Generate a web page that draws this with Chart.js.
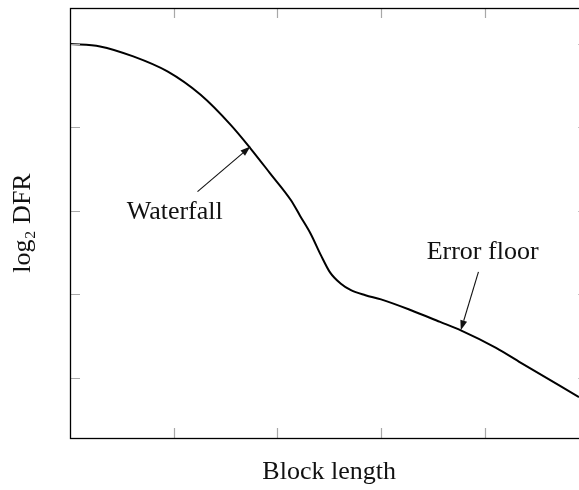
<!DOCTYPE html>
<html>
<head>
<meta charset="utf-8">
<script src="https://cdn.jsdelivr.net/npm/chart.js@4"></script>
<style>
  html, body { margin: 0; padding: 0; overflow: hidden; background: #fff; }
  #c { display: block; }
</style>
</head>
<body>
<canvas id="c" width="579" height="490"></canvas>
<script>
// Curve (block length vs log2 DFR)
const blockLength = [0, 0.29, 0.61, 0.94, 1.26, 1.55, 1.74, 1.93, 2.13, 2.22, 2.32, 2.42, 2.51, 2.61, 2.71, 2.85, 3.00, 3.29, 3.57, 3.77, 4.11, 4.35, 4.91];
const log2DFR     = [4.00, 3.97, 3.85, 3.67, 3.39, 3.03, 2.75, 2.45, 2.13, 1.94, 1.73, 1.47, 1.26, 1.13, 1.05, 0.99, 0.94, 0.81, 0.67, 0.57, 0.36, 0.18, -0.23];

const xTicks = [1, 2, 3, 4];
const yTicks = [0, 1, 2, 3, 4];
const xRange = [0, 4.91];   // visible part; the frame's right edge (x = 5) is cut off by the picture
const xFrameRight = 5;
const yRange = [-0.72, 4.43];

const xTitle = 'Block length';
const yTitle = 'log\u2082 DFR';

// Annotations: label text, label position, arrow start, arrow tip (data units)
const annLabels = ['Waterfall', 'Error floor'];
const annLabelPos = [[1.01, 1.99], [3.98, 1.50]];
const annArrowFrom = [[1.23, 2.23], [3.94, 1.27]];
const annArrowTo = [[1.74, 2.77], [3.77, 0.57]];

const FONT = '"Liberation Serif", "DejaVu Serif", serif';

const points = blockLength.map((x, i) => ({ x: x, y: log2DFR[i] }));

const framePlugin = {
  id: 'frame',
  afterDatasetsDraw(chart) {
    const ctx = chart.ctx;
    const a = chart.chartArea;
    const xs = chart.scales.x, ys = chart.scales.y;
    const right = xs.getPixelForValue(xFrameRight);
    ctx.save();
    // ticks (inward, all four sides)
    ctx.strokeStyle = '#a8a8a8';
    ctx.lineWidth = 1.2;
    const tl = 10;
    ctx.beginPath();
    xTicks.forEach(v => {
      const px = Math.round(xs.getPixelForValue(v)) + 0.5;
      ctx.moveTo(px, a.bottom); ctx.lineTo(px, a.bottom - tl);
      ctx.moveTo(px, a.top); ctx.lineTo(px, a.top + tl);
    });
    yTicks.forEach(v => {
      const py = Math.round(ys.getPixelForValue(v)) + 0.5;
      ctx.moveTo(a.left, py); ctx.lineTo(a.left + tl, py);
      ctx.moveTo(right, py); ctx.lineTo(right - tl, py);
    });
    ctx.stroke();
    // frame
    ctx.strokeStyle = '#000';
    ctx.lineWidth = 1.3;
    ctx.strokeRect(Math.round(a.left) + 0.5, Math.round(a.top) + 0.5, right - a.left, Math.round(a.bottom - a.top));

    ctx.fillStyle = '#111';
    ctx.strokeStyle = '#111';
    ctx.font = '26px ' + FONT;
    ctx.textAlign = 'center';
    ctx.textBaseline = 'middle';
    // x-axis title, centred under the full (partly cut off) frame
    ctx.fillText(xTitle, (a.left + right) / 2, xs.bottom - 18);

    // annotations
    annLabels.forEach((t, i) => {
      ctx.fillText(t, xs.getPixelForValue(annLabelPos[i][0]), ys.getPixelForValue(annLabelPos[i][1]));
      const x0 = xs.getPixelForValue(annArrowFrom[i][0]), y0 = ys.getPixelForValue(annArrowFrom[i][1]);
      const x1 = xs.getPixelForValue(annArrowTo[i][0]), y1 = ys.getPixelForValue(annArrowTo[i][1]);
      const ang = Math.atan2(y1 - y0, x1 - x0);
      const hl = 10, hw = 3.5;
      const bx = x1 - hl * Math.cos(ang), by = y1 - hl * Math.sin(ang);
      ctx.lineWidth = 1.1;
      ctx.beginPath();
      ctx.moveTo(x0, y0); ctx.lineTo(bx, by);
      ctx.stroke();
      ctx.beginPath();
      ctx.moveTo(x1, y1);
      ctx.lineTo(bx + hw * Math.sin(ang), by - hw * Math.cos(ang));
      ctx.lineTo(bx - hw * Math.sin(ang), by + hw * Math.cos(ang));
      ctx.closePath();
      ctx.fill();
    });
    ctx.restore();
  }
};

new Chart(document.getElementById('c'), {
  type: 'line',
  data: {
    datasets: [{
      data: points,
      borderColor: '#000',
      borderWidth: 2,
      pointRadius: 0,
      fill: false,
      cubicInterpolationMode: 'monotone'
    }]
  },
  options: {
    responsive: false,
    maintainAspectRatio: false,
    animation: false,
    devicePixelRatio: 1,
    layout: { padding: { top: 8, right: 0, left: 0, bottom: 0 } },
    plugins: { legend: { display: false }, tooltip: { enabled: false } },
    scales: {
      x: {
        type: 'linear',
        min: xRange[0], max: xRange[1],
        grid: { display: false },
        border: { display: false },
        ticks: { display: false },
        title: { display: false },
        afterFit(s) { s.height = 52; }
      },
      y: {
        type: 'linear',
        min: yRange[0], max: yRange[1],
        grid: { display: false },
        border: { display: false },
        ticks: { display: false },
        title: { display: true, text: yTitle, color: '#111', font: { family: FONT, size: 26 }, padding: { top: 7.4, bottom: 0 } },
        afterFit(s) { s.width = 70; }
      }
    }
  },
  plugins: [framePlugin]
});
</script>
</body>
</html>
